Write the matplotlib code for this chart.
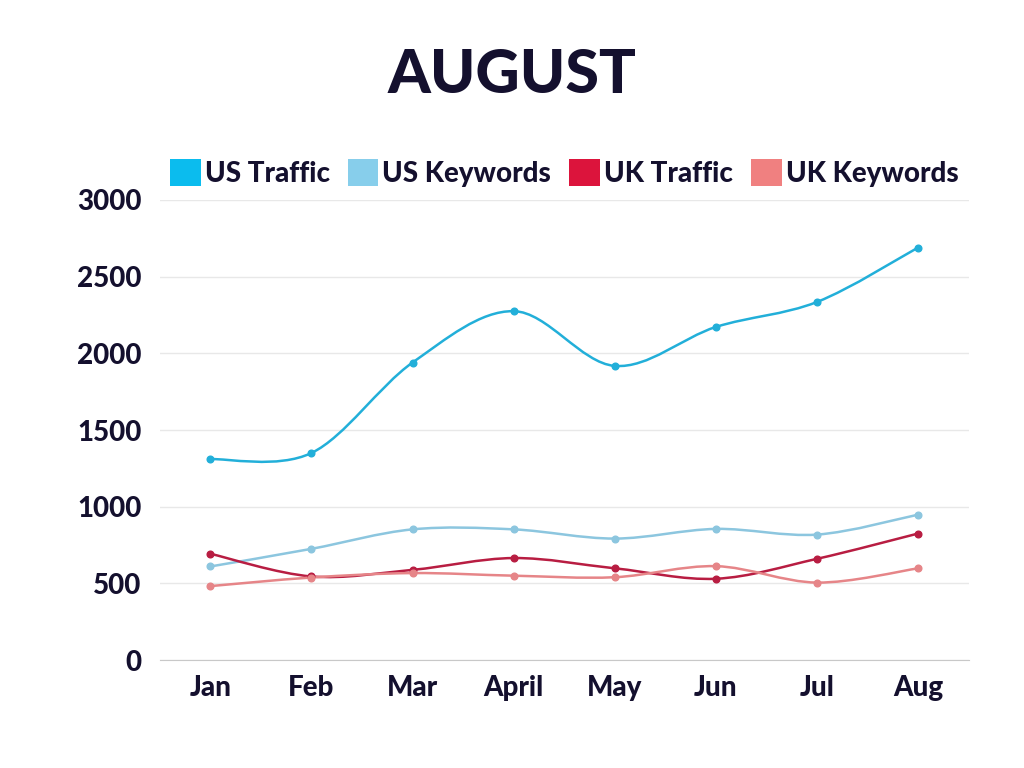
import numpy as np
import matplotlib
matplotlib.use("Agg")
import matplotlib.pyplot as plt
from matplotlib.path import Path
from matplotlib.patches import PathPatch, Patch

months = ["Jan", "Feb", "Mar", "April", "May", "Jun", "Jul", "Aug"]
us_traffic = [1310, 1350, 1940, 2275, 1918, 2172, 2335, 2690]
us_keywords = [610, 725, 852, 852, 792, 855, 818, 948]
uk_traffic = [693, 545, 588, 665, 598, 530, 660, 825]
uk_keywords = [482, 538, 567, 550, 540, 612, 505, 598]

series = [
    ("US Traffic", us_traffic, "#0bbcee", "#22afd9"),
    ("US Keywords", us_keywords, "#87ceeb", "#8cc6df"),
    ("UK Traffic", uk_traffic, "#dc143c", "#b81d42"),
    ("UK Keywords", uk_keywords, "#f08080", "#e68588"),
]

TEXT = "#14102e"
plt.rcParams['font.family'] = ['Lato', 'DejaVu Sans']

fig = plt.figure(figsize=(10.24, 7.68), dpi=100)
ax = fig.add_axes([0.156, 0.1406, 0.790, 0.599])


def smooth_path(xs, ys, k=1.0 / 6):
    xs = np.asarray(xs, float)
    ys = np.asarray(ys, float)
    n = len(xs)
    verts = [(xs[0], ys[0])]
    codes = [Path.MOVETO]
    for i in range(n - 1):
        x0, y0 = (xs[i - 1], ys[i - 1]) if i > 0 else (xs[i], ys[i])
        x1, y1 = xs[i], ys[i]
        x2, y2 = xs[i + 1], ys[i + 1]
        x3, y3 = (xs[i + 2], ys[i + 2]) if i + 2 < n else (xs[i + 1], ys[i + 1])
        c1 = (x1 + (x2 - x0) * k, y1 + (y2 - y0) * k)
        c2 = (x2 - (x3 - x1) * k, y2 - (y3 - y1) * k)
        verts += [c1, c2, (x2, y2)]
        codes += [Path.CURVE4] * 3
    return Path(verts, codes)


x = np.arange(len(months))
handles = []
for name, vals, lcol, linecol in series:
    p = smooth_path(x, vals)
    ax.add_patch(PathPatch(p, facecolor="none", edgecolor=linecol, lw=1.8, zorder=3))
    ax.plot(x, vals, linestyle="none", marker="o", markersize=4.8,
            color=linecol, zorder=4)
    handles.append(Patch(facecolor=lcol, edgecolor="none", label=name))

ax.set_xlim(-0.5, len(months) - 0.5)
ax.set_ylim(0, 3000)
ax.set_yticks(np.arange(0, 3001, 500))
ax.set_xticks(x)
ax.set_xticklabels(months)
ax.yaxis.grid(True, color="#e8e8e8", lw=1)
ax.set_axisbelow(True)
for s in ["top", "right", "left"]:
    ax.spines[s].set_visible(False)
ax.spines["bottom"].set_color("#c8c8c8")
ax.tick_params(length=0, labelsize=20, labelcolor=TEXT)
for lab in ax.get_xticklabels() + ax.get_yticklabels():
    lab.set_fontweight("black")
ax.tick_params(axis="y", pad=13)
ax.tick_params(axis="x", pad=11)

leg = ax.legend(handles=handles, loc="center", bbox_to_anchor=(0.5, 1.059),
                ncol=4, frameon=False, fontsize=20, handlelength=1.1,
                handleheight=1.1, handletextpad=0.15, columnspacing=0.65,
                borderaxespad=0)
for t in leg.get_texts():
    t.set_color(TEXT)
    t.set_fontweight("black")

fig.text(0.5, 0.902, "AUGUST", ha="center", va="center", fontsize=44,
         fontweight="black", color=TEXT)

fig.savefig("out.png", dpi=100, facecolor="white")
